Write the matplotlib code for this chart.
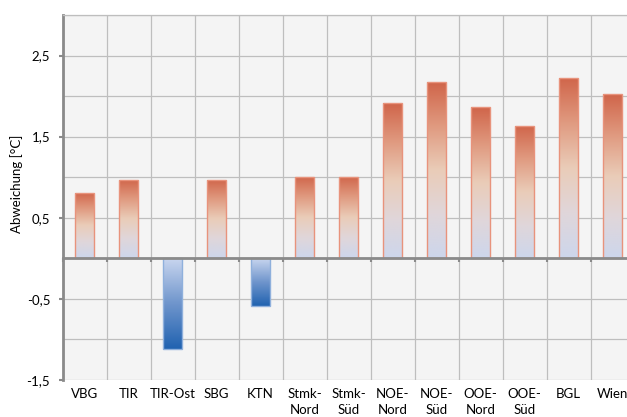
import numpy as np
import matplotlib
matplotlib.use("Agg")
import matplotlib.pyplot as plt
from matplotlib.colors import LinearSegmentedColormap
from matplotlib.ticker import FuncFormatter, MultipleLocator

plt.rcParams["font.family"] = ["Lato", "DejaVu Sans"]

# Temperaturabweichung je Region
regions = ["VBG", "TIR", "TIR-Ost", "SBG", "KTN", "Stmk-\nNord", "Stmk-\nSüd",
           "NOE-\nNord", "NOE-\nSüd", "OOE-\nNord", "OOE-\nSüd", "BGL", "Wien"]
deviation = [0.81, 0.97, -1.12, 0.97, -0.585, 1.0, 1.0,
             1.91, 2.17, 1.86, 1.63, 2.22, 2.02]

# gradients: bottom -> top
warm = LinearSegmentedColormap.from_list(
    "warm", ["#cdd6ec", "#e0d6da", "#eaccb8", "#e09a80", "#d0654a"])
cold = LinearSegmentedColormap.from_list(
    "cold", ["#2062b0", "#6f95cc", "#c9d6ef"])

fig = plt.figure(figsize=(6.27, 4.17), dpi=100)
ax = fig.add_axes([0.1, 0.089, 0.912, 0.875])
ax.set_facecolor("#f4f4f4")

x = np.arange(len(regions))
bars = ax.bar(x, deviation, width=0.43, color="none", zorder=3)

grad = np.linspace(0, 1, 256).reshape(-1, 1)
for rect, val in zip(bars, deviation):
    x0, y0 = rect.get_x(), rect.get_y()
    w, h = rect.get_width(), rect.get_height()
    y_lo, y_hi = min(y0, y0 + h), max(y0, y0 + h)
    cmap = warm if val > 0 else cold
    edge = "#e8937c" if val > 0 else "#8fb0dc"
    img = ax.imshow(grad, cmap=cmap, aspect="auto", origin="lower",
                    extent=(x0, x0 + w, y_lo, y_hi), zorder=3)
    img.set_clip_path(rect)
    rect.set_edgecolor(edge)
    rect.set_linewidth(1.0)
    rect.set_zorder(4)

ax.set_xlim(-0.5, len(regions) - 0.5)
ax.set_ylim(-1.5, 3.0)

# gridlines
ax.set_xticks(np.arange(-0.5, len(regions), 1.0))
ax.yaxis.set_major_locator(MultipleLocator(1.0, offset=0.5))
ax.yaxis.set_minor_locator(MultipleLocator(0.5))
ax.grid(True, which="both", color="#bebebe", linewidth=0.9, zorder=0)
ax.set_axisbelow(True)
ax.yaxis.set_major_formatter(
    FuncFormatter(lambda v, p: f"{v:.1f}".replace(".", ",")))
ax.tick_params(axis="y", which="major", length=3, width=1.5,
               color="#8a8a8a", labelsize=9.5, pad=6)
ax.tick_params(axis="y", which="minor", length=0)

# horizontal axis crosses at zero
ax.spines["bottom"].set_position(("data", 0))
ax.spines["bottom"].set_color("#8a8a8a")
ax.spines["bottom"].set_linewidth(2.0)
ax.spines["bottom"].set_zorder(5)
ax.spines["left"].set_color("#8a8a8a")
ax.spines["left"].set_linewidth(2.0)
ax.spines["top"].set_color("#bebebe")
ax.spines["top"].set_linewidth(0.9)
ax.spines["right"].set_visible(False)
ax.tick_params(axis="x", length=3, width=1.5, color="#8a8a8a",
               labelbottom=False)

# category labels below the plot area
sec = ax.secondary_xaxis(-0.0)
sec.set_xticks(x)
sec.set_xticklabels(regions, fontsize=9.5, linespacing=1.35, va="top")
sec.tick_params(length=0, pad=6)
sec.spines["bottom"].set_visible(False)

fig.text(0.026, 0.56, "Abweichung [°C]", rotation=90, fontsize=9.5,
         ha="center", va="center")

fig.savefig("out.png", dpi=100)
